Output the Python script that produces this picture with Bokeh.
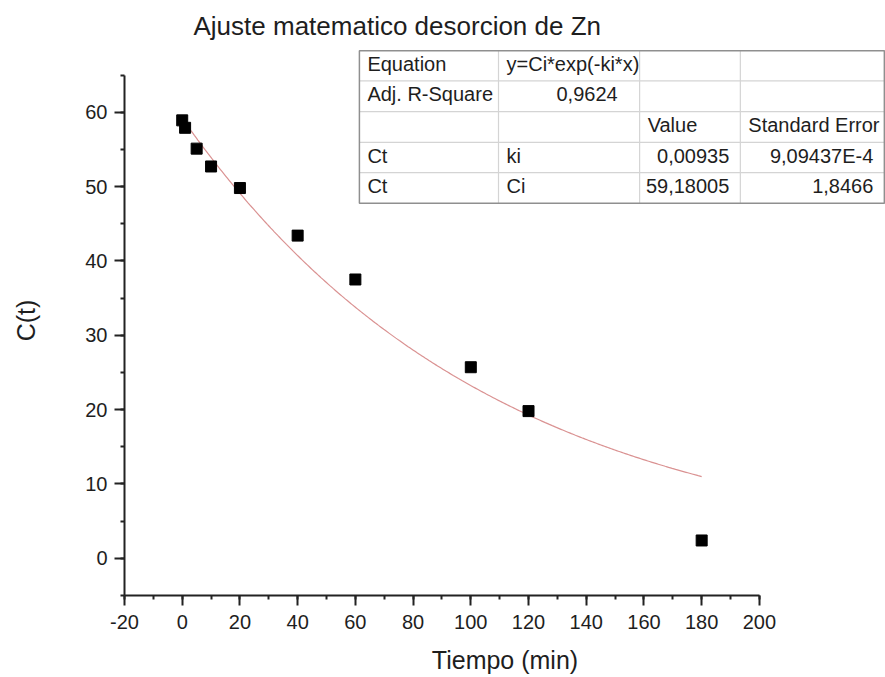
import numpy as np
from bokeh.plotting import figure
from bokeh.models import Range1d, SingleIntervalTicker, ColumnDataSource
from bokeh.core.properties import value
from bokeh.embed import file_html
from bokeh.resources import INLINE

# ---------------- data ----------------
time_min = [0, 1, 5, 10, 20, 40, 60, 100, 120, 180]
c_t = [58.9, 57.9, 55.1, 52.7, 49.8, 43.4, 37.5, 25.7, 19.8, 2.4]

# fitted model parameters (shown in the table): y = Ci*exp(-ki*x)
fit_Ci = 59.18005
fit_ki = 0.00935
fit_x_start = 0
fit_x_end = 180

title_text = "Ajuste matematico desorcion de Zn"
x_label = "Tiempo (min)"
y_label = "C(t)"
x_tick_labels = {-20: "-20"}

# results table (rows top to bottom)
table_col1 = ["Equation", "Adj. R-Square", "", "Ct", "Ct"]
table_col2 = ["y=Ci*exp(-ki*x)", "0,9624", "", "ki", "Ci"]
table_col3 = ["", "", "Value", "0,00935", "59,18005"]
table_col4 = ["", "", "Standard Error", "9,09437E-4", "1,8466"]
table_align2 = ["left", "right", "left", "left", "left"]
table_align3 = ["left", "left", "left", "right", "right"]
table_align4 = ["left", "left", "left", "right", "right"]

# ---------------- layout ----------------
FONT = "Liberation Sans"
TXT = "#1e1e1e"
W, H = 885, 677
X0, X1 = -20, 243.7
Y0, Y1 = -5, 68.97
LEFT, TOP, BOTTOM = 124, 45, 82
px_x = (W - LEFT) / (X1 - X0)       # pixels per x unit
px_y = (H - TOP - BOTTOM) / (Y1 - Y0)

# table geometry (data units)
tbl_cols = [61.4, 109.6, 158.5, 193.4, 243.3]
tbl_rows = [68.28, 64.2, 60.07, 55.95, 51.86, 47.74]

p = figure(width=W, height=H, x_range=Range1d(X0, X1), y_range=Range1d(Y0, Y1),
           output_backend="svg", toolbar_location=None,
           min_border_left=LEFT, min_border_right=0, min_border_top=TOP,
           min_border_bottom=BOTTOM)
p.outline_line_color = None
p.xgrid.visible = False
p.ygrid.visible = False
p.background_fill_color = "white"
p.border_fill_color = "white"

p.title.text = title_text
p.title.text_font = FONT
p.title.text_font_size = "26px"
p.title.text_font_style = "normal"
p.title.text_color = TXT
p.title.align = "left"
p.title.offset = 69

for ax in (p.xaxis[0], p.yaxis[0]):
    ax.axis_line_width = 2
    ax.axis_line_color = "#222222"
    ax.major_tick_line_width = 2
    ax.minor_tick_line_width = 2
    ax.major_tick_line_color = "#222222"
    ax.minor_tick_line_color = "#222222"
    ax.major_tick_in = 0
    ax.major_tick_out = 10
    ax.minor_tick_in = 0
    ax.minor_tick_out = 4
    ax.major_label_text_font = FONT
    ax.major_label_text_font_size = "20px"
    ax.major_label_text_color = TXT
    ax.axis_label_text_font = FONT
    ax.axis_label_text_font_size = "25px"
    ax.axis_label_text_font_style = "normal"
    ax.axis_label_text_color = TXT

p.xaxis.bounds = (-20, 200)
p.yaxis.bounds = (-5, 65)
p.xaxis.ticker = SingleIntervalTicker(interval=20, num_minor_ticks=2)
p.yaxis.ticker = SingleIntervalTicker(interval=10, num_minor_ticks=2)
p.xaxis.major_label_overrides = x_tick_labels
p.xaxis.major_label_standoff = 9
p.yaxis.major_label_standoff = 7
p.xaxis.axis_label = x_label
p.yaxis.axis_label = y_label
p.xaxis.axis_label_standoff = 14
p.yaxis.axis_label_standoff = 42

# fitted curve
x_fit = np.linspace(fit_x_start, fit_x_end, 300)
y_fit = fit_Ci * np.exp(-fit_ki * x_fit)
p.line(x_fit, y_fit, line_color="#da9292", line_width=1.2)

# data points
p.scatter(time_min, c_t, marker="square", size=11, fill_color="black",
          line_color="black", line_width=1)

# table frame
p.segment(x0=[tbl_cols[0]] * 4, x1=[tbl_cols[-1]] * 4,
          y0=tbl_rows[1:-1], y1=tbl_rows[1:-1], line_color="#d4d4d4", line_width=1.2)
p.segment(x0=tbl_cols[1:-1], x1=tbl_cols[1:-1],
          y0=[tbl_rows[0]] * 3, y1=[tbl_rows[-1]] * 3, line_color="#d4d4d4", line_width=1.2)
p.quad(left=[tbl_cols[0]], right=[tbl_cols[-1]], top=[tbl_rows[0]], bottom=[tbl_rows[-1]],
       fill_color=None, line_color="#8f8f8f", line_width=1.5)

# table text
pad_l = 8 / px_x
pad_r = 11 / px_x
tx, ty, tt, ta = [], [], [], []
columns = [(table_col1, ["left"] * 5), (table_col2, table_align2),
           (table_col3, table_align3), (table_col4, table_align4)]
for ci, (texts, aligns) in enumerate(columns):
    for ri, (t, a) in enumerate(zip(texts, aligns)):
        if not t:
            continue
        yc = (tbl_rows[ri] + tbl_rows[ri + 1]) / 2 + 2 / px_y
        if a == "left":
            xx = tbl_cols[ci] + pad_l
        else:
            extra = 11 / px_x if ri == 1 else 0
            xx = tbl_cols[ci + 1] - pad_r - extra
        tx.append(xx); ty.append(yc); tt.append(t); ta.append(a)
src = ColumnDataSource(dict(x=tx, y=ty, text=tt, align=ta))
p.text(x="x", y="y", text="text", text_align="align", source=src,
       text_font=value(FONT), text_font_size="20px", text_color=TXT,
       text_baseline="middle")

open("out.html", "w").write(file_html(p, INLINE))
